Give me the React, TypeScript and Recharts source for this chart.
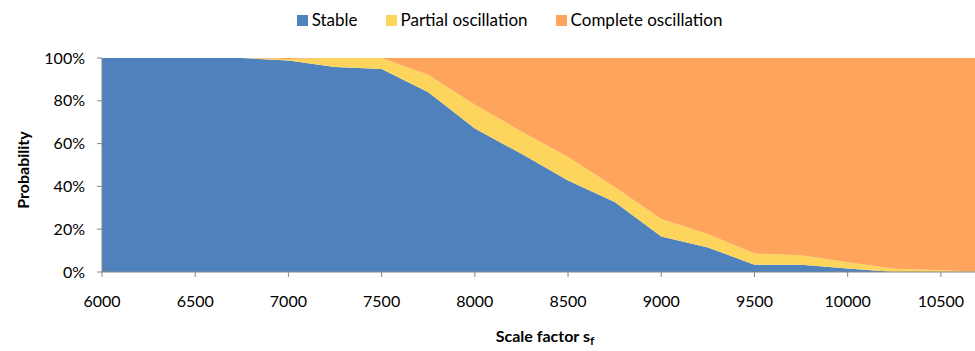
import { Area, AreaChart, Legend, XAxis, YAxis } from "recharts";

// Scale factor sweep, probability of each outcome (percent, sums to 100).
const scaleFactors = [6000, 6250, 6500, 6750, 7000, 7250, 7500, 7750, 8000, 8250, 8500, 8750, 9000, 9250, 9500, 9750, 10000, 10250, 10500, 10750];
const stable = [100, 100, 100, 100, 98.8, 95.8, 94.9, 84, 67, 55.2, 42.7, 32.7, 16.6, 11.5, 3.4, 3.4, 1.6, 0, 0, 0];
const partial = [0, 0, 0, 0, 0.7, 4.2, 5.1, 8.2, 11.2, 10.5, 11, 7, 8.2, 6.3, 5.2, 4.4, 2.9, 1.5, 0.8, 0];
const complete = scaleFactors.map((_, i) => 100 - stable[i] - partial[i]);

const xTicks = [6000, 6500, 7000, 7500, 8000, 8500, 9000, 9500, 10000, 10500];
const yTicks = [0, 20, 40, 60, 80, 100];

const series = [
  { key: "stable", name: "Stable", color: "#4F81BD" },
  { key: "partial", name: "Partial oscillation", color: "#FDD55C" },
  { key: "complete", name: "Complete oscillation", color: "#FFA45C" },
];

const data = scaleFactors.map((x, i) => ({ x, stable: stable[i], partial: partial[i], complete: complete[i] }));

const FONT = "Lato, 'Open Sans', sans-serif";
const AXIS = "#868686";

function TopLegend() {
  return (
    <div style={{ display: "flex", justifyContent: "center", gap: 28, paddingTop: 9, paddingLeft: 44, fontFamily: FONT, fontSize: 17, lineHeight: "22px" }}>
      {series.map((s) => (
        <span key={s.key} style={{ display: "flex", alignItems: "center", gap: 4 }}>
          <span style={{ width: 11, height: 11, background: s.color, display: "inline-block" }} />
          {s.name}
        </span>
      ))}
    </div>
  );
}

export default function App() {
  return (
    <div style={{ position: "absolute", left: 0, top: 0 }}>
      <AreaChart width={975} height={351} data={data} margin={{ top: 0, right: 0, bottom: 0, left: 0 }}>
        <Legend verticalAlign="top" height={58} content={<TopLegend />} />
        <XAxis
          dataKey="x"
          type="number"
          domain={[6000, 10683]}
          allowDataOverflow
          ticks={xTicks}
          height={79}
          stroke={AXIS}
          tickSize={5}
          tickMargin={19}
          tick={{ fill: "#000", fontSize: 16, fontFamily: FONT }}
          label={{
            content: () => (
              <text x={545} y={342} textAnchor="middle" fontFamily={FONT} fontSize={16} fontWeight="bold">
                Scale factor s<tspan dy={3} fontSize={12}>f</tspan>
              </text>
            ),
          }}
        />
        <YAxis
          type="number"
          domain={[0, 100]}
          ticks={yTicks}
          width={102}
          stroke={AXIS}
          tickSize={5}
          tickMargin={12}
          tickFormatter={(v) => `${v}%`}
          tick={{ fill: "#000", fontSize: 16, fontFamily: FONT }}
          label={{
            content: () => (
              <text
                x={22}
                y={170}
                transform="rotate(-90, 22, 170)"
                textAnchor="middle"
                dominantBaseline="central"
                fontFamily={FONT}
                fontSize={16}
                fontWeight="bold"
              >
                Probability
              </text>
            ),
          }}
        />
        {series.map((s) => (
          <Area
            key={s.key}
            dataKey={s.key}
            name={s.name}
            stackId="p"
            type="linear"
            stroke="none"
            fill={s.color}
            fillOpacity={1}
            isAnimationActive={false}
          />
        ))}
      </AreaChart>
    </div>
  );
}
